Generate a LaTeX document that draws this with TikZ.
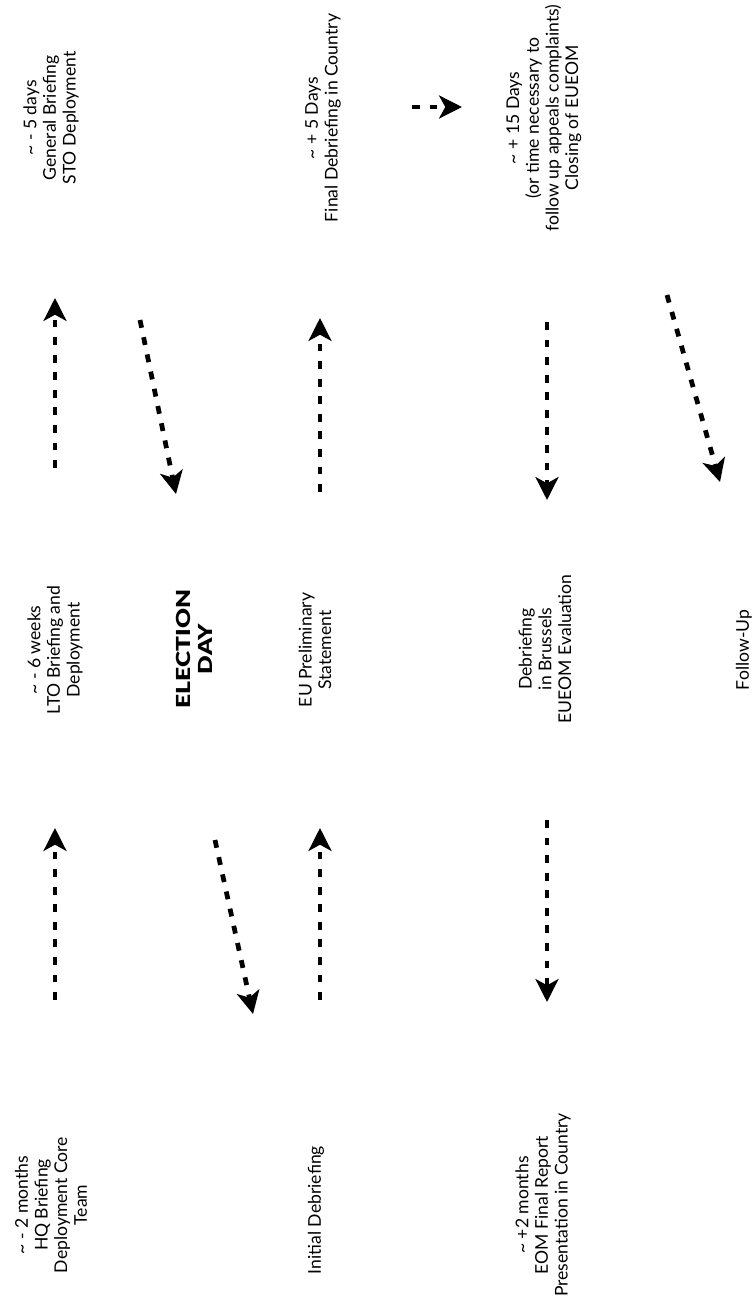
\documentclass[tikz,border=0pt]{standalone}
\usepackage{fontspec}
\setmainfont{Lato}
\newfontfamily\heavyfont{Lato Black}
\usetikzlibrary{arrows.meta}

\begin{document}
\begin{tikzpicture}[x=0.02cm, y=-0.02cm,
  stage/.style={rotate=90, align=center, inner sep=0pt,
    font=\fontsize{10}{11.2}\selectfont},
  eday/.style={rotate=90, xscale=1.27, align=center, inner sep=0pt,
    font=\fontsize{11}{12.5}\heavyfont},
  flow/.style={line width=2.7pt, dash pattern=on 4.5pt off 5.5pt,
    -{Stealth[length=13pt, width=13pt, inset=3.5pt]}}]

  \useasboundingbox (0,0) rectangle (755,1308);

  % before election day (bottom row, then middle, then top)
  \node[stage] (hq) at (51,1205) {\textasciitilde{} - 2 months\\HQ Briefing\\Deployment Core\\Team};
  \node[stage] (lto) at (55,650) {\textasciitilde{} - 6 weeks\\LTO Briefing and\\Deployment};
  \node[stage] (sto) at (51,118) {\textasciitilde{} - 5 days\\General Briefing\\STO Deployment};

  \node[eday] (eday) at (194,649) {ELECTION\\DAY};

  % after election day
  \node[stage] (init) at (316,1210) {Initial Debriefing};
  \node[stage] (prelim) at (315,650) {EU Preliminary\\Statement};
  \node[stage] (debrief) at (323,118) {\textasciitilde{} + 5 Days\\Final Debriefing in Country};

  \node[stage] (report) at (543,1205) {\textasciitilde{} +2 months\\EOM Final Report\\Presentation in Country};
  \node[stage] (brussels) at (545,649) {Debriefing\\in Brussels\\EUEOM Evaluation};
  \node[stage] (closing) at (544,118) {\textasciitilde{} + 15 Days\\(or time necessary to\\follow up appeals complaints)\\Closing of EUEOM};

  \node[stage] (follow) at (744,650) {Follow-Up};

  % arrow ends
  \coordinate (hqA) at (55,1000);   \coordinate (ltoA) at (55,828);
  \coordinate (ltoB) at (55,468);   \coordinate (stoA) at (55,298);
  \coordinate (stoB) at (140,320);  \coordinate (edA) at (176,494);
  \coordinate (edB) at (215,840);   \coordinate (initA) at (253,1014);
  \coordinate (initB) at (320,1000); \coordinate (preA) at (320,828);
  \coordinate (preB) at (320,492);  \coordinate (debA) at (320,318);
  \coordinate (debB) at (412,107);  \coordinate (cloA) at (462,107);
  \coordinate (bruA) at (547,820);  \coordinate (repA) at (547,1002);
  \coordinate (cloB) at (547,322);  \coordinate (bruB) at (547,500);
  \coordinate (cloC) at (667,295);  \coordinate (folA) at (720,482);

  \draw[flow] (hqA) -- (ltoA);
  \draw[flow] (ltoB) -- (stoA);
  \draw[flow] (stoB) -- (edA);
  \draw[flow] (edB) -- (initA);
  \draw[flow] (initB) -- (preA);
  \draw[flow] (preB) -- (debA);
  \draw[flow] (debB) -- (cloA);
  \draw[flow] (cloB) -- (bruB);
  \draw[flow] (bruA) -- (repA);
  \draw[flow] (cloC) -- (folA);
\end{tikzpicture}
\end{document}
